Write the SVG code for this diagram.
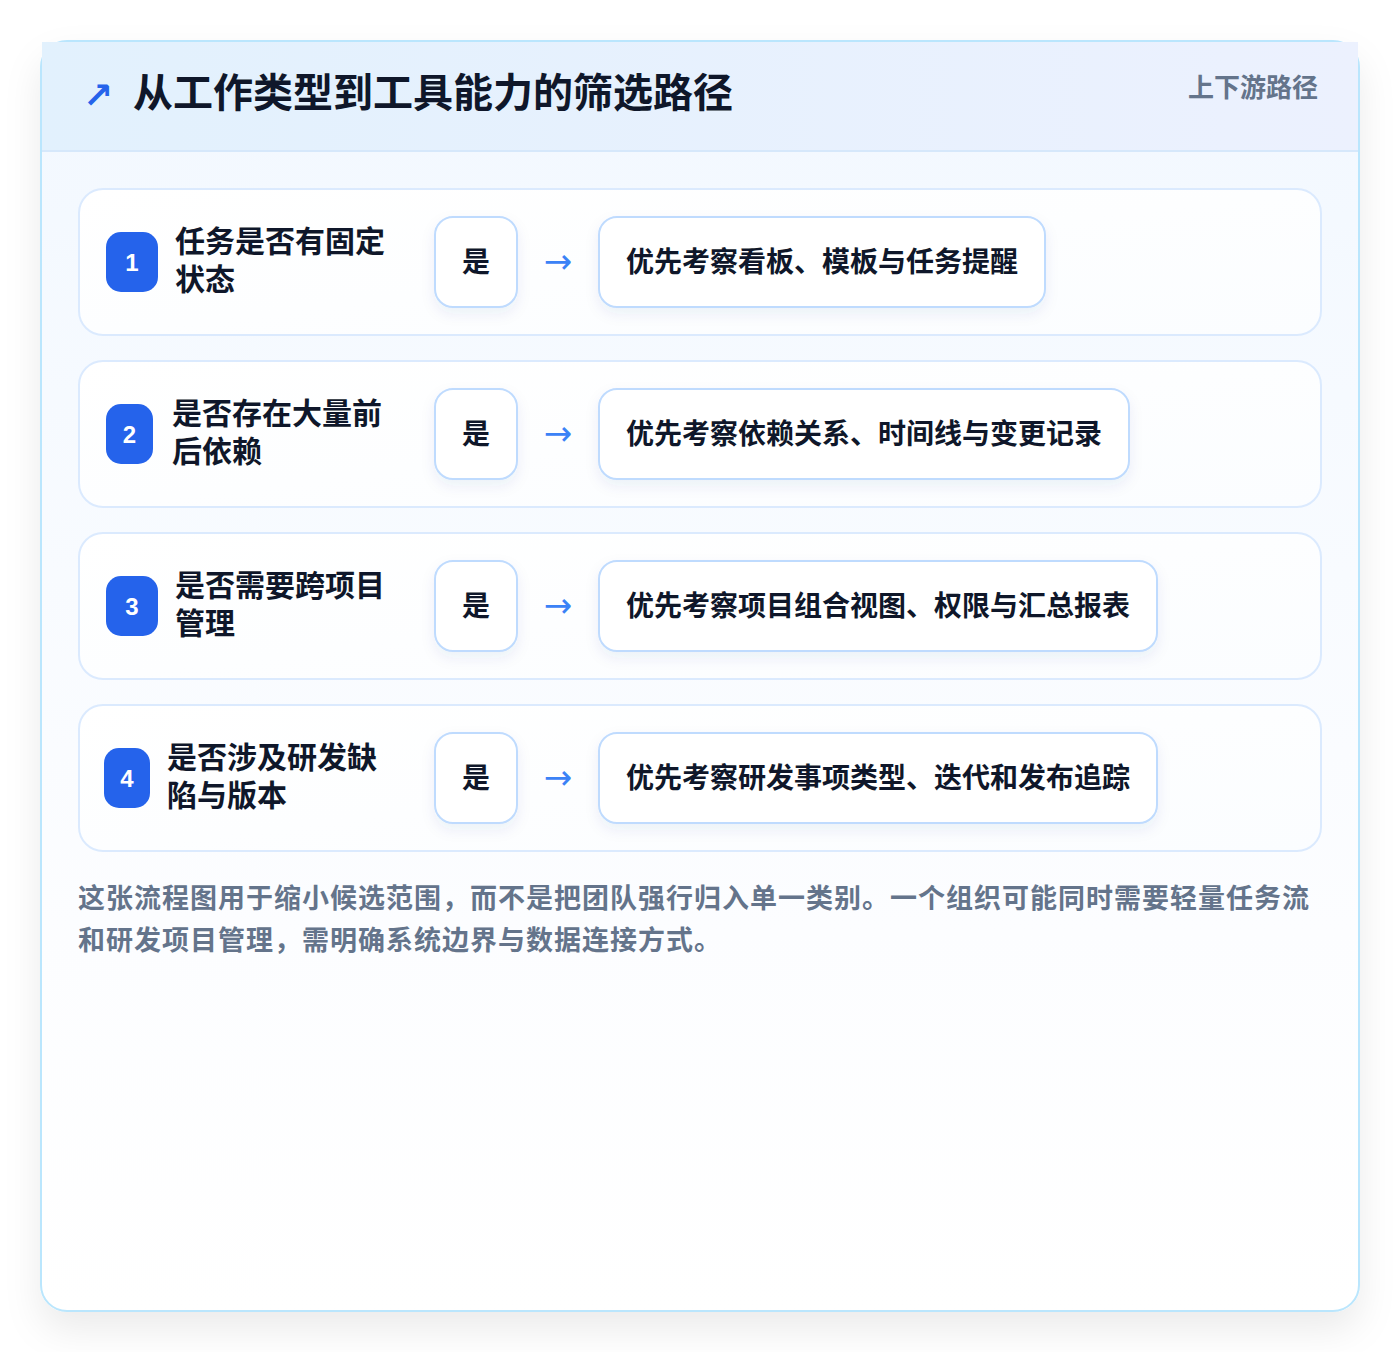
<svg xmlns="http://www.w3.org/2000/svg" width="1400" height="1352" viewBox="0 0 1400 1352">
<defs>
<linearGradient id="hdr" x1="0" y1="0" x2="1" y2="0">
<stop offset="0" stop-color="#e2f1fd"/>
<stop offset="1" stop-color="#ecf1fe"/>
</linearGradient>
<linearGradient id="body" x1="0" y1="0" x2="0" y2="1">
<stop offset="0" stop-color="#f2f8ff"/>
<stop offset="0.7" stop-color="#fcfdff"/>
<stop offset="1" stop-color="#ffffff"/>
</linearGradient>
<linearGradient id="rowg" x1="0" y1="0" x2="1" y2="1">
<stop offset="0" stop-color="#ffffff"/>
<stop offset="1" stop-color="#fbfdff"/>
</linearGradient>
<filter id="cardShadow" x="-10%" y="-10%" width="120%" height="120%">
<feDropShadow dx="0" dy="18" stdDeviation="18" flood-color="#0f172a" flood-opacity="0.08"/>
</filter>
<filter id="boxShadow" x="-20%" y="-30%" width="140%" height="170%">
<feDropShadow dx="0" dy="6" stdDeviation="7" flood-color="#1e3a8a" flood-opacity="0.07"/>
</filter>
</defs>
<style>
.t{font-family:"Noto Sans CJK SC","Noto Sans",sans-serif;}
.title{font-size:40px;font-weight:700;fill:#0f172a;}
.tag{font-size:26px;font-weight:600;fill:#64748b;}
.rowcard{fill:url(#rowg);stroke:#dbeafe;stroke-width:2;}
.badge{fill:#2563eb;}
.num{font-family:"Liberation Sans","DejaVu Sans",sans-serif;font-size:24px;font-weight:700;fill:#ffffff;text-anchor:middle;}
.q{font-size:30px;font-weight:700;fill:#0f172a;}
.box{fill:#ffffff;stroke:#bfdbfe;stroke-width:2;filter:url(#boxShadow);}
.bt{font-size:28px;font-weight:700;fill:#0f172a;}
.arrow{font-family:"DejaVu Sans",sans-serif;font-size:34px;fill:#3b82f6;text-anchor:middle;}
.foot{font-size:27px;font-weight:600;fill:#64748b;letter-spacing:1px;}
</style>
<rect width="1400" height="1352" fill="#ffffff"/>
<g id="card">
<rect x="41" y="41" width="1318" height="1270" rx="26" fill="url(#body)" stroke="#bae6fd" stroke-width="2" filter="url(#cardShadow)"/>
<rect x="42" y="42" width="1316" height="109" fill="url(#hdr)"/>
<line x1="42" y1="151" x2="1358" y2="151" stroke="#d6e8fb" stroke-width="2"/>
</g>
<g id="header">
<text x="83" y="108" font-family="DejaVu Sans,sans-serif" font-size="36" font-weight="700" fill="#2563eb">↗</text>
<text class="t title" x="133" y="107">从工作类型到工具能力的筛选路径</text>
<text class="t tag" x="1318" y="97" text-anchor="end">上下游路径</text>
</g>
<g id="row1">
<rect class="rowcard" x="79" y="189" width="1242" height="146" rx="24"/>
<rect class="badge" x="106" y="232" width="52" height="60" rx="15"/>
<text class="num" x="132" y="271">1</text>
<text class="t q" x="175" y="252">任务是否有固定</text>
<text class="t q" x="175" y="290">状态</text>
<g id="yes1"><rect class="box" x="435" y="217" width="82" height="90" rx="18"/>
<text class="t bt" x="476" y="272" text-anchor="middle">是</text></g>
<g id="res1"><rect class="box" x="599" y="217" width="446" height="90" rx="18"/>
<text class="t bt" x="626" y="272">优先考察看板、模板与任务提醒</text></g>
</g>
<g id="row2">
<rect class="rowcard" x="79" y="361" width="1242" height="146" rx="24"/>
<rect class="badge" x="106" y="404" width="47" height="60" rx="15"/>
<text class="num" x="129.5" y="443">2</text>
<text class="t q" x="172" y="424">是否存在大量前</text>
<text class="t q" x="172" y="462">后依赖</text>
<g id="yes2"><rect class="box" x="435" y="389" width="82" height="90" rx="18"/>
<text class="t bt" x="476" y="444" text-anchor="middle">是</text></g>
<g id="res2"><rect class="box" x="599" y="389" width="530" height="90" rx="18"/>
<text class="t bt" x="626" y="444">优先考察依赖关系、时间线与变更记录</text></g>
</g>
<g id="row3">
<rect class="rowcard" x="79" y="533" width="1242" height="146" rx="24"/>
<rect class="badge" x="106" y="576" width="52" height="60" rx="15"/>
<text class="num" x="132" y="615">3</text>
<text class="t q" x="175" y="596">是否需要跨项目</text>
<text class="t q" x="175" y="634">管理</text>
<g id="yes3"><rect class="box" x="435" y="561" width="82" height="90" rx="18"/>
<text class="t bt" x="476" y="616" text-anchor="middle">是</text></g>
<g id="res3"><rect class="box" x="599" y="561" width="558" height="90" rx="18"/>
<text class="t bt" x="626" y="616">优先考察项目组合视图、权限与汇总报表</text></g>
</g>
<g id="row4">
<rect class="rowcard" x="79" y="705" width="1242" height="146" rx="24"/>
<rect class="badge" x="104" y="748" width="46" height="60" rx="15"/>
<text class="num" x="127" y="787">4</text>
<text class="t q" x="167" y="768">是否涉及研发缺</text>
<text class="t q" x="167" y="806">陷与版本</text>
<g id="yes4"><rect class="box" x="435" y="733" width="82" height="90" rx="18"/>
<text class="t bt" x="476" y="788" text-anchor="middle">是</text></g>
<g id="res4"><rect class="box" x="599" y="733" width="558" height="90" rx="18"/>
<text class="t bt" x="626" y="788">优先考察研发事项类型、迭代和发布追踪</text></g>
</g>
<g id="connectors">
<text class="arrow" x="558" y="273">→</text>
<text class="arrow" x="558" y="445">→</text>
<text class="arrow" x="558" y="617">→</text>
<text class="arrow" x="558" y="789">→</text>
</g>
<g id="footer">
<text class="t foot" x="78" y="908">这张流程图用于缩小候选范围，而不是把团队强行归入单一类别。一个组织可能同时需要轻量任务流</text>
<text class="t foot" x="78" y="950">和研发项目管理，需明确系统边界与数据连接方式。</text>
</g>
</svg>
